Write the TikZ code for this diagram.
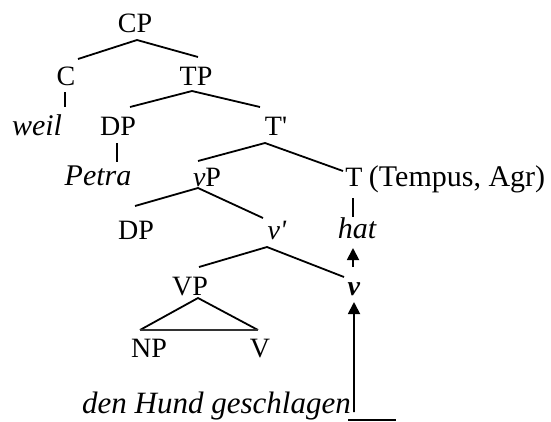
\documentclass[tikz,border=0pt]{standalone}
\usepackage{fontspec}
\setmainfont{Liberation Serif}
\usetikzlibrary{calc,arrows.meta}
\begin{document}
\begin{tikzpicture}[x=1pt,y=-1pt,
  lbl/.style={inner sep=0pt,anchor=base,font=\fontsize{28}{30}\selectfont},
  itl/.style={inner sep=0pt,anchor=base,font=\fontsize{30}{32}\selectfont\itshape},
  br/.style={line width=1.8pt},
  mv/.style={line width=1.8pt,-{Triangle[width=12pt,length=12pt]}}]
\useasboundingbox (0,0) rectangle (551,421);
% nodes
\node[lbl] (CP) at (135,32) {CP};
\node[lbl] (C) at (66,85) {C};
\node[lbl] (TP) at (196,85) {TP};
\node[itl] (weil) at (37,135) {weil};
\node[lbl] (DP) at (118,135) {DP};
\node[lbl] (Tb) at (276,135) {T\textquotesingle};
\node[itl] (Petra) at (98,185) {Petra};
\node[lbl] (vP) at (207,186) {\textit{v}P};
\node[lbl] (T) at (354,186) {T};
\node[inner sep=0pt,anchor=base west,font=\fontsize{30}{32}\selectfont] (TA) at ($(T.base east)+(6,0)$) {(Tempus, Agr)};
\node[lbl] (DPb) at (136,239) {DP};
\node[lbl] (vb) at (277,239) {\textit{v\textquotesingle}};
\node[itl] (hat) at (357,238) {hat};
\node[lbl] (VP) at (190,295) {VP};
\node[lbl] (v) at (354,295) {\textbf{\textit{v}}};
\node[lbl] (NP) at (149,357) {NP};
\node[lbl] (V) at (260,357) {V};
\node[itl,anchor=base west,font=\fontsize{31}{33}\selectfont\itshape] (dhg) at (82,413) {den Hund geschlagen};
\coordinate (tr) at ($(dhg.base east)+(3,-1)$);
% branches
\draw[br] ($(C.base)+(12,-26)$) -- ($(CP.base)+(2,8)$) -- ($(TP.base)+(2,-28)$);
\draw[br] ($(C.base)+(-1,7)$) -- ($(weil.base)+(28,-28)$);
\draw[br] ($(DP.base)+(12,-28)$) -- ($(TP.base)+(-4,6)$) -- ($(Tb.base)+(-16,-28)$);
\draw[br] ($(DP.base)+(-1,8)$) -- ($(Petra.base)+(19,-23)$);
\draw[br] ($(vP.base)+(-9,-25)$) -- ($(Tb.base)+(-11,8)$) -- ($(T.base)+(-11,-15)$);
\draw[br] ($(DPb.base)+(-1,-33)$) -- ($(vP.base)+(-9,2)$) -- ($(vb.base)+(-14,-21)$);
\draw[br] ($(T.base)+(-1,12)$) -- ($(hat.base)+(-4,-21)$);
\draw[br] ($(VP.base)+(9,-28)$) -- ($(vb.base)+(-10,8)$) -- ($(v.base)+(-10,-18)$);
% triangle
\draw[br] ($(NP.base)+(-9,-27)$) -- ($(VP.base)+(8,3)$) -- ($(V.base)+(-2,-27)$);
\draw[line width=2.8pt,black!80] ($(NP.base)+(-9,-27)$) -- ($(V.base)+(-2,-27)$);
% movement
\draw[mv] ($(v.base)+(-1,-28)$) -- ($(hat.base)+(-4,10)$);
\draw[mv] (tr) -- ($(v.base)+(0,7)$);
\draw[br] ($(tr)+(-6,8)$) -- ($(tr)+(42,8)$);
\end{tikzpicture}
\end{document}
